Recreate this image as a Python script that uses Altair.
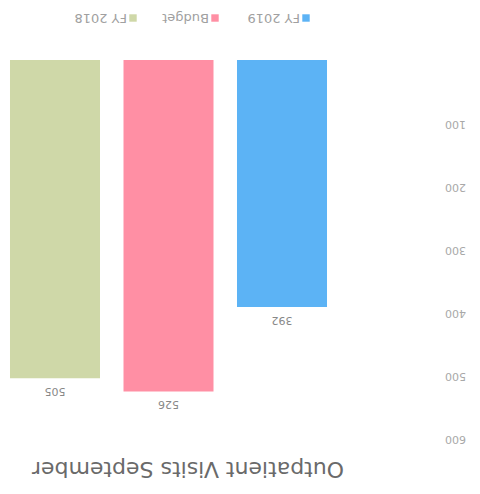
import altair as alt
import pandas as pd

# Outpatient visits for September, drawn upside down (rotated 180 degrees)
series = ["FY 2018", "Budget", "FY 2019"]
values = [505, 526, 392]
colors = ["#cfd8a8", "#ff8fa4", "#5cb3f5"]
y_ticks = [100, 200, 300, 400, 500, 600]
title_text = "Outpatient Visits September"

df = pd.DataFrame({"series": series, "visits": values})

W, H = 327, 378
PAD = {"left": 5, "top": 60, "right": 148, "bottom": 56}
FONT = "DejaVu Sans"

x_enc = alt.X(
    "series:N", sort=series, axis=None,
    scale=alt.Scale(paddingInner=0.207, paddingOuter=0.044),
)
y_scale = alt.Scale(domain=[0, 600], reverse=True)
y_axis = alt.Axis(
    orient="right", values=y_ticks, labelAngle=180, labelAlign="center",
    labelBaseline="middle", labelPadding=123, domain=False, ticks=False,
    grid=False, labelColor="#a8a8a8", labelFontSize=11, labelFont=FONT,
    title=None,
)
y_enc = alt.Y("visits:Q", scale=y_scale, axis=y_axis)

bars = alt.Chart(df).mark_bar().encode(
    x=x_enc,
    y=y_enc,
    color=alt.Color("series:N", scale=alt.Scale(domain=series, range=colors), legend=None),
)

value_labels = alt.Chart(df).mark_text(
    angle=180, baseline="bottom", dy=-8, fontSize=11, color="#888888", font=FONT
).encode(
    x=x_enc,
    y=y_enc,
    text="visits:Q",
)

# Legend: swatch with its label to the left (text rotated like the rest)
legend_layers = []
swatch_x = [133, 215, 306]
legend_y = 18 - PAD["top"]
for name, col, sx in zip(series, colors, swatch_x):
    legend_layers.append(
        alt.Chart(df).mark_square(size=55, opacity=1, clip=False).encode(
            x=alt.value(sx - PAD["left"]), y=alt.value(legend_y), color=alt.value(col)
        ).transform_filter(alt.datum.series == name)
    )
    legend_layers.append(
        alt.Chart(df).mark_text(
            angle=180, align="left", baseline="middle", fontSize=13,
            color="#a0a0a0", font=FONT, clip=False,
        ).encode(
            x=alt.value(sx - PAD["left"] - 6), y=alt.value(legend_y), text=alt.value(name)
        ).transform_filter(alt.datum.series == name)
    )

title = alt.Chart(df).mark_text(
    angle=180, align="center", baseline="middle", fontSize=22,
    color="#6a6a6a", font=FONT, clip=False,
).encode(
    x=alt.value(188 - PAD["left"]), y=alt.value(469 - PAD["top"]), text=alt.value(title_text)
).transform_filter(alt.datum.series == series[0])

chart = alt.layer(bars, value_labels, *legend_layers, title).properties(
    width=W, height=H, autosize="none", padding=PAD,
).configure_view(stroke=None)

chart.save("out.html", embed_options={"renderer": "svg", "actions": False})
